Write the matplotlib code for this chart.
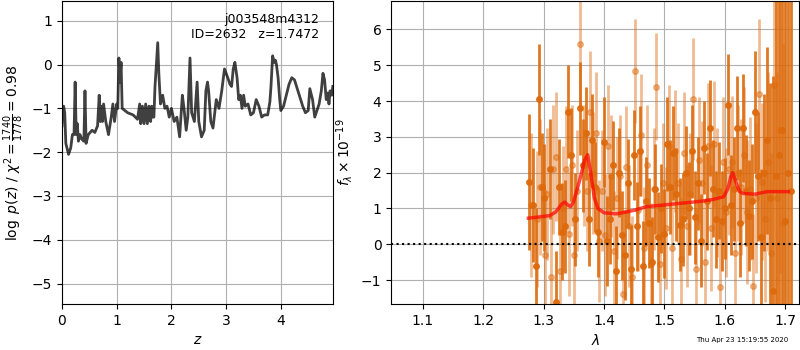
import numpy as np
from matplotlib import pyplot as plt

# p(z) curve
z_grid = [0.00, 0.01, 0.03, 0.05, 0.07, 0.10, 0.12, 0.16, 0.19, 0.22, 0.24, 0.26,
          0.28, 0.30, 0.33, 0.36, 0.40, 0.42, 0.44, 0.48, 0.55, 0.60, 0.65, 0.68,
          0.70, 0.72, 0.74, 0.76, 0.80, 0.85, 0.90, 0.93, 0.96, 1.00, 1.02, 1.04,
          1.06, 1.08, 1.10, 1.15, 1.20, 1.30, 1.38, 1.42, 1.44, 1.47, 1.50, 1.53,
          1.56, 1.59, 1.62, 1.64, 1.66, 1.68, 1.70, 1.73, 1.75, 1.77, 1.80, 1.84,
          1.88, 1.92, 1.96, 2.00, 2.05, 2.10, 2.15, 2.20, 2.23, 2.27, 2.30, 2.34,
          2.37, 2.42, 2.47, 2.50, 2.55, 2.60, 2.63, 2.66, 2.68, 2.72, 2.76, 2.82,
          2.87, 2.92, 2.97, 3.03, 3.07, 3.10, 3.13, 3.16, 3.20, 3.23, 3.26, 3.29,
          3.32, 3.35, 3.40, 3.45, 3.50, 3.55, 3.60, 3.65, 3.70, 3.76, 3.80, 3.82,
          3.85, 3.88, 3.90, 3.92, 3.95, 3.98, 4.00, 4.05, 4.10, 4.15, 4.20, 4.25,
          4.30, 4.35, 4.40, 4.45, 4.50, 4.53, 4.55, 4.58, 4.62, 4.66, 4.70, 4.74,
          4.77, 4.80, 4.83, 4.86, 4.88, 4.90, 4.93, 4.95]
log_pz = [-1.40, -1.00, -0.95, -1.10, -1.80, -1.95, -2.05, -1.90, -1.60, -1.60, -0.40, -1.60,
          -1.35, -1.75, -1.60, -1.70, -1.75, -0.60, -1.80, -1.60, -1.50, -1.55, -1.40, -0.70,
          -1.30, -0.95, -1.30, -0.90, -1.30, -1.60, -1.20, -0.90, -1.30, -0.90, -1.00, 0.15,
          -0.40, 0.05, -1.00, -1.05, -1.10, -1.15, -1.25, -0.90, -1.35, -0.95, -1.35, -0.90,
          -1.35, -0.95, -1.30, -0.95, -1.20, -1.20, -0.50, 0.10, 0.50, -0.20, -0.90, -0.70,
          -1.00, -0.95, -1.20, -1.00, -1.30, -1.20, -1.65, -0.70, -1.00, -1.50, -1.20, 0.15,
          -1.10, -1.30, -0.40, -1.30, -1.65, -1.50, -0.60, -0.40, -0.60, -1.30, -1.45, -0.80,
          -1.00, -0.60, -0.10, -0.30, -0.45, -0.50, -0.10, 0.05, -0.30, -0.80, -0.70, -1.00,
          -0.70, -0.95, -0.90, -1.15, -1.10, -0.80, -0.95, -1.20, -1.15, -1.15, -0.85, -0.50,
          0.20, 0.05, 0.10, 0.00, -0.30, -0.80, -1.05, -0.95, -0.70, -0.45, -0.30, -0.35,
          -0.55, -0.75, -0.95, -1.10, -1.05, -0.55, -0.65, -0.80, -1.20, -1.05, -0.90, -0.60,
          -0.20, -0.35, -0.80, -0.65, -0.90, -0.60, -0.70, -0.50]

# spectrum, first beam (dark)
wave_a = [1.276, 1.283, 1.288, 1.293, 1.297, 1.300, 1.310, 1.320, 1.325, 1.330,
          1.335, 1.340, 1.345, 1.352, 1.360, 1.365, 1.370, 1.375, 1.380, 1.385,
          1.390, 1.400, 1.405, 1.410, 1.415, 1.420, 1.425, 1.430, 1.435, 1.440,
          1.445, 1.450, 1.455, 1.460, 1.465, 1.470, 1.475, 1.480, 1.485, 1.490,
          1.495, 1.500, 1.505, 1.510, 1.515, 1.520, 1.525, 1.530, 1.535, 1.540,
          1.545, 1.550, 1.555, 1.560, 1.565, 1.570, 1.575, 1.580, 1.585, 1.590,
          1.595, 1.600, 1.605, 1.610, 1.615, 1.620, 1.625, 1.630, 1.635, 1.640,
          1.645, 1.650, 1.655, 1.660, 1.665, 1.670, 1.675, 1.680, 1.685, 1.690,
          1.695, 1.700, 1.705, 1.710]
flux_a = [1.75, 1.10, -0.60, 4.05, 1.60, 1.30, 2.10, -1.60, 1.60, 0.35,
          0.50, 3.70, 2.50, 0.70, 3.80, 2.20, 3.10, 0.70, 2.90, 1.60,
          0.35, 2.85, 0.10, 0.70, 2.20, -0.75, 2.00, 0.25, -0.30, 1.70,
          -0.70, 2.50, 0.50, 2.60, -0.60, 1.20, 0.60, -0.50, 1.55, 0.20,
          1.00, 0.30, 2.80, 1.60, 2.55, 1.40, 0.55, 0.70, 2.00, 1.00,
          2.60, 0.75, 1.70, 0.10, 2.70, 1.20, 3.25, 1.55, 0.70, 1.50,
          0.65, 1.00, 3.90, 1.10, 1.55, 3.25, 0.60, 3.25, 1.50, 0.80,
          1.20, 3.70, 1.90, 0.20, 2.00, 2.90, 1.30, -1.30, 1.90, 2.50,
          3.20, 0.65, 2.00, 1.50]
err_a = [1.90, 1.60, 1.60, 1.55, 1.50, 1.50, 1.40, 1.40, 1.35, 1.35,
         1.30, 1.30, 1.30, 1.30, 1.30, 1.30, 1.30, 1.30, 1.30, 1.25,
         1.25, 1.25, 1.25, 1.25, 1.25, 1.25, 1.25, 1.25, 1.25, 1.25,
         1.25, 1.25, 1.25, 1.25, 1.25, 1.25, 1.25, 1.25, 1.25, 1.25,
         1.25, 1.25, 1.30, 1.30, 1.30, 1.30, 1.30, 1.30, 1.30, 1.30,
         1.30, 1.30, 1.30, 1.30, 1.30, 1.35, 1.35, 1.35, 1.35, 1.35,
         1.40, 1.40, 1.40, 1.40, 1.45, 1.45, 1.50, 1.50, 1.55, 1.55,
         1.60, 1.70, 1.80, 1.90, 2.20, 2.60, 3.20, 6.00, 7.00, 8.00,
         9.00, 10.0, 10.0, 10.0]

# spectrum, second beam (light)
wave_b = [1.280, 1.290, 1.295, 1.302, 1.306, 1.312, 1.316, 1.321, 1.327, 1.332,
          1.337, 1.342, 1.347, 1.350, 1.356, 1.361, 1.367, 1.372, 1.377, 1.382,
          1.387, 1.392, 1.396, 1.402, 1.407, 1.412, 1.417, 1.422, 1.427, 1.432,
          1.437, 1.442, 1.447, 1.451, 1.457, 1.462, 1.467, 1.472, 1.477, 1.482,
          1.486, 1.492, 1.497, 1.502, 1.507, 1.512, 1.517, 1.522, 1.527, 1.532,
          1.537, 1.542, 1.547, 1.552, 1.557, 1.562, 1.567, 1.572, 1.577, 1.582,
          1.587, 1.592, 1.597, 1.602, 1.607, 1.612, 1.617, 1.622, 1.627, 1.632,
          1.637, 1.642, 1.647, 1.652, 1.657, 1.662, 1.667, 1.672, 1.677, 1.682,
          1.687, 1.692, 1.697]
flux_b = [1.10, 0.70, 1.60, -0.30, 1.40, -0.90, 2.10, 2.45, -0.75, 1.00,
          2.10, 0.30, 2.20, -0.30, 1.50, 5.60, 2.20, 1.50, 3.70, 2.00,
          3.10, 0.10, 1.50, 0.25, 2.75, 1.90, -0.20, 1.30, 1.90, -1.40,
          2.15, 0.50, -0.90, 4.85, 0.95, 3.05, -0.10, 2.20, -0.55, 1.55,
          4.40, -0.55, 1.70, 0.45, 2.75, -0.10, 2.60, 1.70, -0.40, 2.55,
          0.50, 1.40, 4.05, -0.70, 2.35, 1.70, -0.50, 2.75, 0.45, 2.80,
          1.45, -1.20, 2.30, 0.90, 2.10, 2.30, -0.25, 2.00, 1.60, 2.50,
          0.90, 1.55, -1.15, 1.30, 4.20, 1.75, 0.70, 2.30, -0.25, 4.45,
          1.30, 3.20, 0.60]
err_b = [2.00, 1.90, 1.90, 1.85, 1.85, 1.80, 1.80, 1.80, 1.75, 1.75,
         1.75, 1.75, 1.70, 1.70, 1.70, 1.70, 1.70, 1.70, 1.70, 1.70,
         1.70, 1.70, 1.70, 1.70, 1.70, 1.70, 1.70, 1.70, 1.70, 1.70,
         1.70, 1.70, 1.70, 1.45, 1.70, 1.70, 1.70, 1.70, 1.70, 1.70,
         1.50, 1.70, 1.70, 1.70, 1.70, 1.70, 1.70, 1.70, 1.70, 1.70,
         1.70, 1.70, 1.70, 1.70, 1.75, 1.75, 1.75, 1.75, 1.75, 1.75,
         1.80, 1.80, 1.80, 1.80, 1.85, 1.85, 1.85, 1.90, 1.90, 1.90,
         2.00, 2.00, 2.00, 2.10, 2.10, 2.20, 2.30, 2.50, 2.80, 3.00,
         3.50, 4.00, 5.00]

# best-fit model
wave_m = [1.275, 1.300, 1.310, 1.320, 1.330, 1.335, 1.340, 1.345, 1.350, 1.360,
          1.368, 1.373, 1.378, 1.384, 1.390, 1.400, 1.420, 1.430, 1.450, 1.470,
          1.500, 1.530, 1.560, 1.580, 1.598, 1.605, 1.610, 1.613, 1.618, 1.624,
          1.630, 1.650, 1.670, 1.690, 1.705]
flux_m = [0.73, 0.78, 0.80, 0.90, 1.12, 1.18, 1.10, 1.05, 1.20, 1.80,
          2.35, 2.50, 2.00, 1.30, 1.00, 0.88, 0.85, 0.88, 0.95, 1.05,
          1.10, 1.15, 1.20, 1.25, 1.33, 1.55, 1.90, 2.00, 1.75, 1.48,
          1.42, 1.40, 1.47, 1.47, 1.47]

orange = '#dd6a0c'

fig = plt.figure(figsize=(8, 3.5), dpi=100)

ax = fig.add_axes([0.0775, 0.131, 0.3385, 0.866])
ax.plot(z_grid, log_pz, color='k', lw=2, alpha=0.75)
ax.set_xlim(0, 4.95)
ax.set_ylim(-5.47, 1.45)
ax.set_xlabel('$z$')
ax.set_ylabel(r'$\log\ p(z)$' + ' / ' + r'$\chi^2=\frac{1740}{1778}=0.98$')
ax.grid()
ax.text(0.95, 0.96, 'j003548m4312\nID=2632   z=1.7472', ha='right', va='top',
        transform=ax.transAxes, fontsize=9)

ax2 = fig.add_axes([0.489, 0.131, 0.510, 0.866])
ax2.errorbar(wave_b, flux_b, err_b, color=orange, alpha=0.45, marker='o',
             ms=4, linestyle='None', lw=2)
ax2.errorbar(wave_a, flux_a, err_a, color=orange, alpha=0.9, marker='o',
             ms=4, linestyle='None', lw=2)
ax2.plot(wave_m, flux_m, color='r', lw=2.5, alpha=0.7, zorder=5)
ax2.axhline(0, color='k', linestyle=':', lw=1.5, zorder=6)
ax2.set_xlim(1.048, 1.723)
ax2.set_ylim(-1.67, 6.79)
ax2.set_xlabel(r'$\lambda$')
ax2.set_ylabel(r'$f_\lambda\times10^{-19}$')
ax2.grid()

fig.text(0.985, 0.02, 'Thu Apr 23 15:19:55 2020', ha='right', va='bottom', fontsize=5)

plt.savefig('out.png', dpi=100)
